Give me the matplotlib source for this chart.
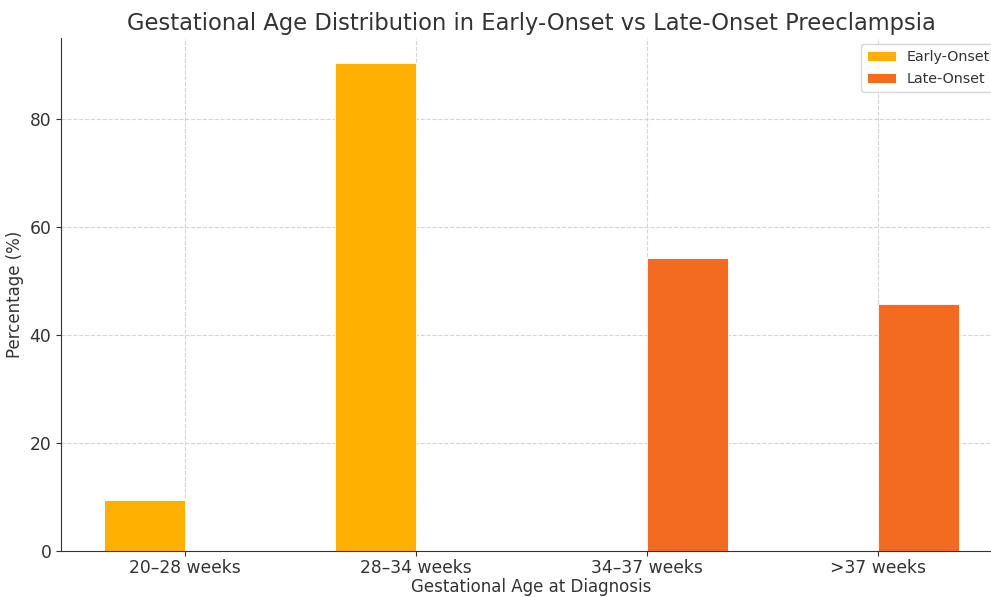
import matplotlib.pyplot as plt
import numpy as np

# Share of cases per gestational-age window
categories = ['20–28 weeks', '28–34 weeks', '34–37 weeks', '>37 weeks']
early_onset = [9.5, 90.5, 0, 0]
late_onset = [0, 0, 54.2, 45.8]

plt.rcParams['text.color'] = '#333333'
plt.rcParams['axes.labelcolor'] = '#333333'
plt.rcParams['xtick.color'] = '#333333'
plt.rcParams['ytick.color'] = '#333333'

fig = plt.figure(figsize=(9.91, 5.97), dpi=100)
ax = fig.add_axes([0.0616, 0.0771, 0.9496, 0.859])

x = np.arange(len(categories))
width = 0.35
ax.bar(x - width / 2, early_onset, width, label='Early-Onset', color='#FFB000', edgecolor='white', linewidth=0.6)
ax.bar(x + width / 2, late_onset, width, label='Late-Onset', color='#F26B21', edgecolor='white', linewidth=0.6)

ax.set_xticks(x)
ax.set_xticklabels(categories, fontsize=12.3)
ax.tick_params(axis='x', pad=2)
ax.tick_params(axis='y', labelsize=12.3)
ax.set_xlabel('Gestational Age at Diagnosis', fontsize=12, labelpad=1)
ax.set_ylabel('Percentage (%)', fontsize=12)
ax.set_title('Gestational Age Distribution in Early-Onset vs Late-Onset Preeclampsia', fontsize=16.3, pad=6)

ax.grid(True, linestyle='--', color='#cccccc', linewidth=0.8, alpha=0.8)
ax.set_axisbelow(True)
for side in ['top', 'right']:
    ax.spines[side].set_visible(False)
for side in ['left', 'bottom']:
    ax.spines[side].set_color('#333333')

ax.legend(loc='upper right', fontsize=10.3, labelspacing=0.6, bbox_to_anchor=(996 / 991, 1 - 44 / 597),
          bbox_transform=fig.transFigure, borderaxespad=0)

fig.savefig('out.png', dpi=100)
